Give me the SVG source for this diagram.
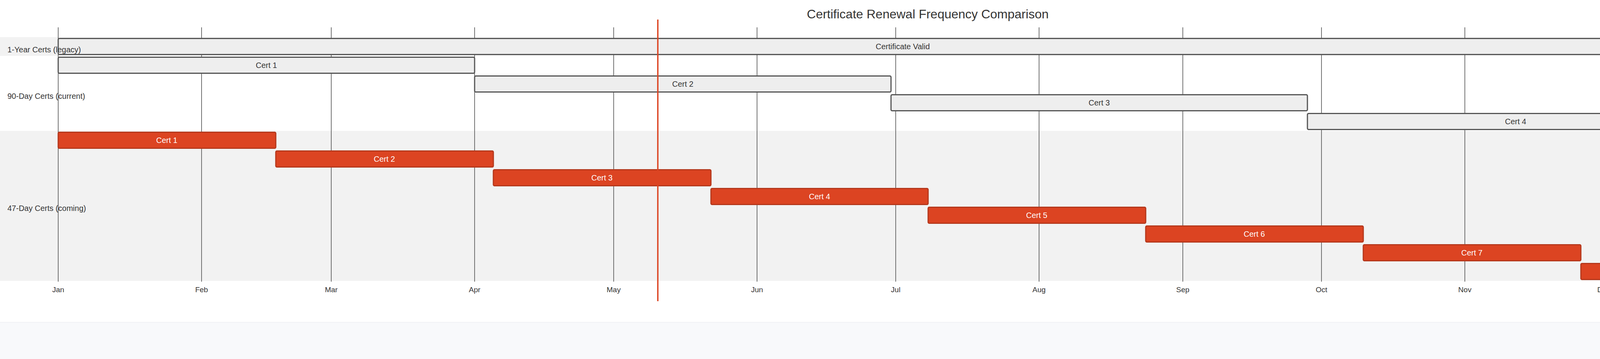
<svg xmlns="http://www.w3.org/2000/svg" width="4768" height="919" viewBox="0 0 4768 919">
<style>
text{font-family:"Liberation Sans",Arial,sans-serif;}
.grid{stroke:#444;stroke-width:1.5;}
.tick{font-size:19px;fill:#333;text-anchor:middle;}
.sec{font-size:20px;fill:#333;}
.g rect{fill:#eeeeee;stroke:#555;stroke-width:3;}
.g text{font-size:20px;fill:#333;text-anchor:middle;}
.r rect{fill:#dc4422;stroke:#b5381c;stroke-width:3;}
.r text{font-size:20px;fill:#fff;text-anchor:middle;}
</style>
<rect width="4768" height="919" fill="#fff"/>
<rect x="0" y="825" width="4768" height="94" fill="#f8f9fb"/>
<line x1="0" y1="825" x2="4768" y2="825" stroke="#eceef2" stroke-width="1.5"/>
<g id="sections">
<rect x="0" y="95" width="4677" height="48" fill="#f2f2f2"/>
<rect x="0" y="335" width="4677" height="384" fill="#f2f2f2"/>
</g>
<g id="grid">
<line class="grid" x1="149" y1="70" x2="149" y2="721"/>
<line class="grid" x1="516" y1="70" x2="516" y2="721"/>
<line class="grid" x1="848" y1="70" x2="848" y2="721"/>
<line class="grid" x1="1215" y1="70" x2="1215" y2="721"/>
<line class="grid" x1="1571" y1="70" x2="1571" y2="721"/>
<line class="grid" x1="1938" y1="70" x2="1938" y2="721"/>
<line class="grid" x1="2293" y1="70" x2="2293" y2="721"/>
<line class="grid" x1="2660" y1="70" x2="2660" y2="721"/>
<line class="grid" x1="3028" y1="70" x2="3028" y2="721"/>
<line class="grid" x1="3383" y1="70" x2="3383" y2="721"/>
<line class="grid" x1="3750" y1="70" x2="3750" y2="721"/>
<line class="grid" x1="4106" y1="70" x2="4106" y2="721"/>
<line class="grid" x1="4473" y1="70" x2="4473" y2="721"/>
<text class="tick" x="149" y="748">Jan</text>
<text class="tick" x="516" y="748">Feb</text>
<text class="tick" x="848" y="748">Mar</text>
<text class="tick" x="1215" y="748">Apr</text>
<text class="tick" x="1571" y="748">May</text>
<text class="tick" x="1938" y="748">Jun</text>
<text class="tick" x="2293" y="748">Jul</text>
<text class="tick" x="2660" y="748">Aug</text>
<text class="tick" x="3028" y="748">Sep</text>
<text class="tick" x="3383" y="748">Oct</text>
<text class="tick" x="3750" y="748">Nov</text>
<text class="tick" x="4106" y="748">Dec</text>
<text class="tick" x="4473" y="748">Jan</text>
</g>
<text x="2375" y="47" font-size="32" fill="#333" text-anchor="middle">Certificate Renewal Frequency Comparison</text>
<g id="legacy" class="g">
<rect x="149" y="98.5" width="4324" height="41" rx="3"/><text x="2311" y="126">Certificate Valid</text>
</g>
<g id="d90" class="g">
<rect x="149" y="146.5" width="1066" height="41" rx="3"/><text x="682" y="174">Cert 1</text>
<rect x="1215" y="194.5" width="1066" height="41" rx="3"/><text x="1748" y="222">Cert 2</text>
<rect x="2281" y="242.5" width="1066" height="41" rx="3"/><text x="2814" y="270">Cert 3</text>
<rect x="3347" y="290.5" width="1066" height="41" rx="3"/><text x="3880" y="318">Cert 4</text>
</g>
<g id="d47" class="r">
<rect x="149" y="338.5" width="557" height="41" rx="3"/><text x="427" y="366">Cert 1</text>
<rect x="706" y="386.5" width="557" height="41" rx="3"/><text x="984" y="414">Cert 2</text>
<rect x="1263" y="434.5" width="557" height="41" rx="3"/><text x="1541" y="462">Cert 3</text>
<rect x="1820" y="482.5" width="556" height="41" rx="3"/><text x="2098" y="510">Cert 4</text>
<rect x="2376" y="530.5" width="557" height="41" rx="3"/><text x="2654" y="558">Cert 5</text>
<rect x="2933" y="578.5" width="557" height="41" rx="3"/><text x="3211" y="606">Cert 6</text>
<rect x="3490" y="626.5" width="557" height="41" rx="3"/><text x="3768" y="654">Cert 7</text>
<rect x="4047" y="674.5" width="557" height="41" rx="3"/><text x="4325" y="702">Cert 8</text>
</g>
<g id="labels">
<text class="sec" x="19" y="134">1-Year Certs (legacy)</text>
<text class="sec" x="19" y="253">90-Day Certs (current)</text>
<text class="sec" x="19" y="540">47-Day Certs (coming)</text>
</g>
<line id="today" x1="1684" y1="50" x2="1684" y2="771" stroke="#dc4422" stroke-width="3.5"/>
<text x="4714" y="883" font-family="'DejaVu Sans Mono',monospace" font-size="40" fill="#8a9bb0" text-anchor="end">qcecuring.com</text>
</svg>
